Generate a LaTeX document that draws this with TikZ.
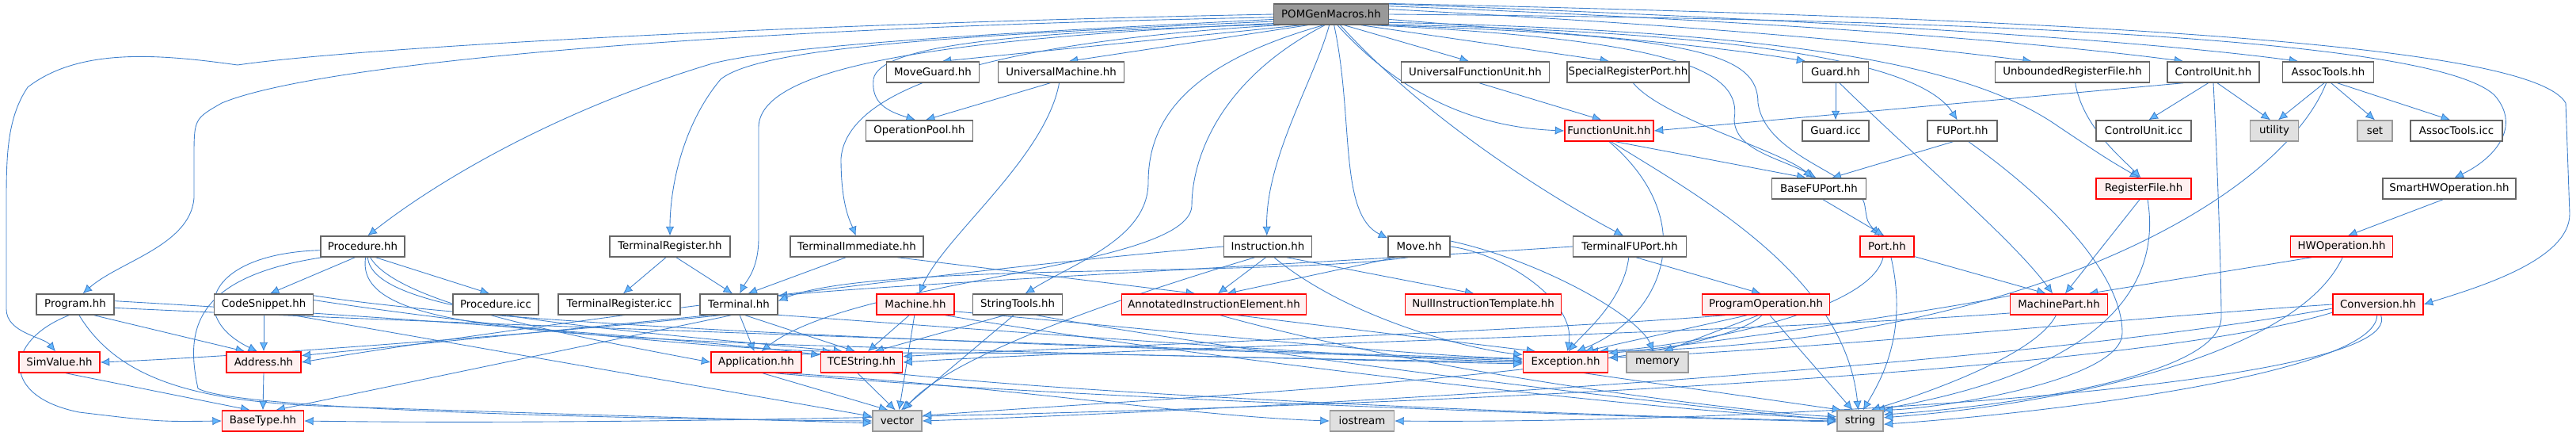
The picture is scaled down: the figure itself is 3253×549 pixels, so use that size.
\documentclass[tikz,border=0pt]{standalone}
\usepackage{fontspec}
\setmainfont{DejaVu Sans}
\usetikzlibrary{arrows.meta}
\pgfdeclarelayer{background}
\pgfsetlayers{background,main}
\definecolor{edgeblue}{HTML}{3F80CC}
\definecolor{tipblue}{HTML}{63B8FF}
\definecolor{redfill}{HTML}{FFF0F0}
\definecolor{sysfill}{HTML}{E0E0E0}
\begin{document}
\begin{tikzpicture}[x=0.02cm,y=0.02cm,
  box/.style={draw=black!60,line width=0.8pt,fill=white,minimum height=0.52cm,inner xsep=1pt,inner ysep=0pt,font=\fontsize{7.6}{9}\selectfont},
  bw/.style={minimum width=#1*0.02cm},
  rootbox/.style={box,fill=black!40},
  redbox/.style={box,draw=red,fill=redfill},
  sysbox/.style={box,draw=black!40,fill=sysfill},
  edge/.style={draw=edgeblue,line width=0.5pt,-{Latex[length=2.3mm,width=2.1mm,fill=tipblue]}}]
\useasboundingbox (0,0) rectangle (3253,-549);

\node[rootbox,bw=145] (pom) at (1681,-18) {POMGenMacros.hh};

\node[box,bw=117] (moveguard) at (1178,-91) {MoveGuard.hh};
\node[box,bw=159] (umach) at (1340,-91) {UniversalMachine.hh};
\node[box,bw=187] (ufu) at (1863,-91) {UniversalFunctionUnit.hh};
\node[box,bw=151] (srport) at (2056,-91) {SpecialRegisterPort.hh};
\node[box,bw=83] (guard) at (2318,-91) {Guard.hh};
\node[box,bw=195] (urf) at (2617,-91) {UnboundedRegisterFile.hh};
\node[box,bw=116] (cu) at (2795,-91) {ControlUnit.hh};
\node[box,bw=115] (assoc) at (2940,-91) {AssocTools.hh};

\node[box,bw=135] (oppool) at (1161,-165) {OperationPool.hh};
\node[redbox,bw=112] (fu) at (2032,-165) {FunctionUnit.hh};
\node[box,bw=84] (guardicc) at (2318,-165) {Guard.icc};
\node[box,bw=88] (fuport) at (2478,-165) {FUPort.hh};
\node[box,bw=120] (cuicc) at (2707,-165) {ControlUnit.icc};
\node[sysbox,bw=61] (utility) at (2872,-165) {utility};
\node[sysbox,bw=44] (setnode) at (2999,-165) {set};
\node[box,bw=116] (associcc) at (3102,-165) {AssocTools.icc};

\node[box,bw=119] (basefuport) at (2297,-238) {BaseFUPort.hh};
\node[redbox,bw=120] (rf) at (2707,-238) {RegisterFile.hh};
\node[box,bw=168] (smarthw) at (3093,-238) {SmartHWOperation.hh};

\node[box,bw=106] (proc) at (458,-311) {Procedure.hh};
\node[box,bw=152] (termreg) at (846,-311) {TerminalRegister.hh};
\node[box,bw=168] (termimm) at (1082,-311) {TerminalImmediate.hh};
\node[box,bw=111] (instr) at (1601,-311) {Instruction.hh};
\node[box,bw=78] (move) at (1792,-311) {Move.hh};
\node[box,bw=143] (termfu) at (2058,-311) {TerminalFUPort.hh};
\node[redbox,bw=68] (port) at (2383,-311) {Port.hh};
\node[redbox,bw=129] (hwop) at (2957,-311) {HWOperation.hh};

\node[box,bw=98] (prog) at (95,-384) {Program.hh};
\node[box,bw=125] (codesnip) at (333,-384) {CodeSnippet.hh};
\node[box,bw=108] (procicc) at (626,-384) {Procedure.icc};
\node[box,bw=154] (termregicc) at (782,-384) {TerminalRegister.icc};
\node[box,bw=98] (term) at (933,-384) {Terminal.hh};
\node[redbox,bw=98] (machine) at (1156,-384) {Machine.hh};
\node[box,bw=113] (strtools) at (1285,-384) {StringTools.hh};
\node[redbox,bw=233] (aie) at (1533,-384) {AnnotatedInstructionElement.hh};
\node[redbox,bw=197] (nullit) at (1873,-384) {NullInstructionTemplate.hh};
\node[redbox,bw=161] (progop) at (2230,-384) {ProgramOperation.hh};
\node[redbox,bw=123] (mpart) at (2600,-384) {MachinePart.hh};
\node[redbox,bw=114] (conv) at (3003,-384) {Conversion.hh};

\node[redbox,bw=102] (simval) at (75,-457) {SimValue.hh};
\node[redbox,bw=94] (addr) at (333,-457) {Address.hh};
\node[redbox,bw=114] (app) at (955,-457) {Application.hh};
\node[redbox,bw=103] (tcestr) at (1088,-457) {TCEString.hh};
\node[redbox,bw=107] (exc) at (1977,-457) {Exception.hh};
\node[sysbox,bw=78] (memory) at (2093,-457) {memory};

\node[redbox,bw=103] (basetype) at (332,-531) {BaseType.hh};
\node[sysbox,bw=62] (vector) at (1133,-531) {vector};
\node[sysbox,bw=81] (iostream) at (1720,-531) {iostream};
\node[sysbox,bw=58] (string) at (2349,-531) {string};

\begin{pgfonlayer}{background}
\draw[edge] (pom.200) -- (moveguard.50);
\draw[edge] (pom.205) -- (umach.55);
\draw[edge] (pom.190) .. controls (1300,-40) and (1110,-55) .. (1103,-100) .. controls (1100,-130) and (1120,-140) .. (oppool.110);
\draw[edge] (pom.320) -- (ufu.120);
\draw[edge] (pom.340) -- (srport.150);
\draw[edge] (pom.355) .. controls (1950,-40) and (2150,-55) .. (guard.160);
\draw[edge] (pom.5) .. controls (2100,-30) and (2350,-50) .. (urf.165);
\draw[edge] (pom.8) .. controls (2200,-25) and (2550,-50) .. (cu.160);
\draw[edge] (pom.10) .. controls (2300,-25) and (2700,-50) .. (assoc.160);
\draw[edge] (pom.east) .. controls (2600,-25) and (3080,-55) .. (3150,-120) .. controls (3185,-160) and (3150,-200) .. (smarthw.65);
\draw[edge] (pom.12) .. controls (2700,-25) and (3200,-60) .. (3240,-130) -- (3245,-270) .. controls (3245,-330) and (3120,-365) .. (conv.east);
\draw[edge] (pom.300) .. controls (1760,-110) and (1850,-160) .. (fu.west);
\draw[edge] (pom.350) .. controls (2150,-40) and (2420,-70) .. (fuport.115);
\draw[edge] (pom.352) .. controls (2300,-40) and (2500,-90) .. (2600,-160) .. controls (2660,-200) .. (rf.112);
\draw[edge] (pom.345) .. controls (2120,-50) and (2200,-90) .. (2190,-150) .. controls (2190,-190) and (2250,-200) .. (basefuport.105);
\draw[edge] (pom.348) .. controls (2150,-45) and (2220,-70) .. (2220,-130) .. controls (2230,-200) and (2350,-220) .. (2355,-260) .. controls (2358,-280) .. (port.125);
\draw[edge] (pom.310) .. controls (1800,-150) and (1960,-250) .. (termfu.120);
\draw[edge] (pom.285) .. controls (1710,-150) and (1690,-270) .. (move.165);
\draw[edge] (pom.260) .. controls (1660,-100) and (1598,-200) .. (instr.95);
\draw[edge] (pom.235) .. controls (1500,-80) and (1450,-150) .. (1450,-230) .. controls (1450,-300) and (1360,-330) .. (strtools.55);
\draw[edge] (pom.240) .. controls (1540,-100) and (1505,-200) .. (1505,-260) .. controls (1500,-340) and (1080,-350) .. (app.65);
\draw[edge] (pom.192) .. controls (1300,-50) and (1070,-100) .. (1062,-200) .. controls (1062,-260) and (1074,-280) .. (termimm.95);
\draw[edge] (pom.189) .. controls (1150,-50) and (960,-90) .. (958,-160) -- (958,-300) .. controls (958,-340) and (942,-355) .. (term.85);
\draw[edge] (pom.187) .. controls (1200,-45) and (960,-60) .. (910,-100) .. controls (860,-160) and (846,-240) .. (termreg.north);
\draw[edge] (pom.185) .. controls (1300,-40) and (1000,-55) .. (900,-80) .. controls (700,-140) and (550,-230) .. (proc.65);
\draw[edge] (pom.183) .. controls (900,-35) and (400,-80) .. (280,-130) .. controls (245,-150) .. (245,-200) -- (245,-250) .. controls (240,-310) and (150,-330) .. (prog.55);
\draw[edge] (pom.180) .. controls (1000,-30) and (450,-60) .. (300,-82) .. controls (200,-68) and (100,-60) .. (35,-110) .. controls (8,-150) and (8,-200) .. (8,-260) -- (8,-390) .. controls (8,-420) and (55,-425) .. (simval.110);

\draw[edge] (umach.225) -- (oppool.60);
\draw[edge] (umach.260) .. controls (1320,-200) and (1190,-300) .. (machine.70);
\draw[edge] (ufu.290) -- (fu.125);
\draw[edge] (srport.295) .. controls (2100,-150) and (2250,-190) .. (basefuport.120);
\draw[edge] (guard.south) -- (guardicc.north);
\draw[edge] (guard.290) .. controls (2420,-200) and (2540,-300) .. (mpart.120);
\draw[edge] (urf.285) .. controls (2630,-160) and (2680,-200) .. (rf.105);
\draw[edge] (cu.200) -- (fu.east);
\draw[edge] (cu.245) -- (cuicc.65);
\draw[edge] (cu.290) -- (utility.110);
\draw[edge] (cu.270) .. controls (2800,-200) and (2805,-350) .. (2805,-400) .. controls (2805,-480) and (2500,-515) .. (string.15);
\draw[edge] (assoc.250) -- (utility.70);
\draw[edge] (assoc.285) -- (setnode.north);
\draw[edge] (assoc.310) -- (associcc.120);
\draw[edge] (assoc.260) .. controls (2880,-250) and (2550,-440) .. (exc.25);

\draw[edge] (fu.300) -- (basefuport.140);
\draw[edge] (fu.280) .. controls (2150,-250) and (2330,-350) .. (string.100);
\draw[edge] (fu.270) .. controls (2150,-280) and (2100,-400) .. (exc.45);
\draw[edge] (fuport.230) -- (basefuport.40);
\draw[edge] (fuport.300) .. controls (2600,-260) and (2680,-350) .. (2680,-420) .. controls (2680,-480) and (2450,-515) .. (string.25);
\draw[edge] (basefuport.290) -- (port.105);
\draw[edge] (rf.250) -- (mpart.60);
\draw[edge] (rf.290) .. controls (2725,-330) and (2700,-460) .. (string.35);
\draw[edge] (smarthw.240) -- (hwop.60);

\draw[edge] (port.340) -- (mpart.140);
\draw[edge] (port.290) .. controls (2410,-420) and (2375,-480) .. (string.75);
\draw[edge] (port.250) .. controls (2360,-400) and (2100,-440) .. (exc.18);
\draw[edge] (hwop.200) -- (mpart.20);
\draw[edge] (hwop.275) .. controls (2900,-450) and (2600,-510) .. (string.8);
\draw[edge] (mpart.170) .. controls (2400,-400) and (2100,-440) .. (exc.12);
\draw[edge] (mpart.255) .. controls (2570,-450) and (2420,-500) .. (string.45);
\draw[edge] (mpart.190) .. controls (2200,-420) and (1400,-440) .. (tcestr.east);
\draw[edge] (conv.180) .. controls (2700,-400) and (2300,-440) .. (exc.6);
\draw[edge] (conv.265) .. controls (3000,-470) and (2600,-520) .. (string.352);
\draw[edge] (conv.285) .. controls (3040,-490) and (2200,-535) .. (iostream.east);
\draw[edge] (conv.190) .. controls (2600,-500) and (1000,-540) .. (basetype.east);
\draw[edge] (conv.185) .. controls (2500,-470) and (1500,-520) .. (vector.east);

\draw[edge] (termfu.300) -- (progop.115);
\draw[edge] (termfu.265) .. controls (2050,-380) and (2000,-420) .. (exc.75);
\draw[edge] (termfu.180) .. controls (1700,-330) and (1100,-360) .. (term.12);
\draw[edge] (progop.210) -- (exc.30);
\draw[edge] (progop.235) -- (memory.60);
\draw[edge] (progop.290) -- (string.125);
\draw[edge] (progop.250) .. controls (2150,-470) and (1500,-500) .. (vector.12);
\draw[edge] (progop.195) .. controls (1900,-420) and (1300,-440) .. (tcestr.8);

\draw[edge] (move.205) -- (aie.40);
\draw[edge] (move.east) .. controls (1900,-320) and (1990,-380) .. (exc.80);
\draw[edge] (move.10) .. controls (1950,-330) and (2070,-400) .. (memory.110);
\draw[edge] (move.225) .. controls (1600,-350) and (1100,-330) .. (term.5);
\draw[edge] (instr.260) -- (aie.70);
\draw[edge] (instr.330) -- (nullit.130);
\draw[edge] (instr.300) .. controls (1700,-400) and (1850,-440) .. (exc.170);
\draw[edge] (instr.220) .. controls (1400,-380) and (1200,-450) .. (vector.60);
\draw[edge] (instr.west) .. controls (1200,-340) and (600,-420) .. (addr.east);
\draw[edge] (aie.335) -- (exc.160);
\draw[edge] (aie.300) .. controls (1800,-470) and (2200,-520) .. (string.170);

\draw[edge] (machine.240) -- (tcestr.60);
\draw[edge] (machine.265) -- (vector.80);
\draw[edge] (machine.350) .. controls (1500,-420) and (1800,-450) .. (exc.175);
\draw[edge] (machine.340) .. controls (1500,-450) and (2100,-520) .. (string.175);
\draw[edge] (strtools.220) -- (tcestr.40);
\draw[edge] (strtools.250) -- (vector.70);
\draw[edge] (strtools.330) .. controls (1600,-450) and (2100,-510) .. (string.178);
\draw[edge] (termimm.225) -- (term.50);
\draw[edge] (termimm.345) -- (aie.150);
\draw[edge] (termreg.250) -- (termregicc.70);
\draw[edge] (termreg.300) -- (term.120);

\draw[edge] (term.210) .. controls (700,-420) and (300,-450) .. (simval.east);
\draw[edge] (term.200) -- (addr.10);
\draw[edge] (term.275) -- (app.100);
\draw[edge] (term.300) -- (tcestr.120);
\draw[edge] (term.235) -- (basetype.40);
\draw[edge] (term.345) .. controls (1300,-420) and (1700,-450) .. (exc.180);

\draw[edge] (proc.235) -- (codesnip.60);
\draw[edge] (proc.320) -- (procicc.120);
\draw[edge] (proc.185) .. controls (260,-320) and (235,-400) .. (addr.120);
\draw[edge] (proc.195) .. controls (240,-350) and (235,-420) .. (250,-490) .. controls (300,-520) and (900,-530) .. (vector.west);
\draw[edge] (proc.285) .. controls (450,-400) and (600,-420) .. (1000,-435) .. controls (1500,-450) .. (exc.west);
\draw[edge] (proc.295) .. controls (470,-390) and (700,-410) .. (tcestr.150);
\draw[edge] (proc.305) .. controls (500,-380) and (700,-420) .. (app.west);
\draw[edge] (codesnip.south) -- (addr.north);
\draw[edge] (codesnip.10) .. controls (700,-420) and (1500,-440) .. (exc.178);
\draw[edge] (codesnip.340) -- (vector.170);
\draw[edge] (codesnip.5) .. controls (600,-410) and (900,-440) .. (tcestr.160);

\draw[edge] (prog.330) -- (addr.150);
\draw[edge] (prog.240) .. controls (5,-430) and (0,-500) .. (100,-520) .. controls (200,-532) .. (basetype.west);
\draw[edge] (prog.290) .. controls (150,-480) and (250,-505) .. (400,-512) .. controls (700,-522) .. (vector.185);
\draw[edge] (prog.5) .. controls (500,-400) and (900,-430) .. (tcestr.170);
\draw[edge] (prog.355) .. controls (600,-410) and (1500,-440) .. (exc.176);
\draw[edge] (simval.300) -- (basetype.140);
\draw[edge] (addr.south) -- (basetype.north);

\draw[edge] (app.300) -- (vector.130);
\draw[edge] (app.330) .. controls (1300,-500) and (2000,-525) .. (string.182);
\draw[edge] (app.340) .. controls (1300,-490) and (1500,-525) .. (iostream.west);
\draw[edge] (app.10) .. controls (1300,-440) and (1700,-455) .. (exc.182);
\draw[edge] (tcestr.250) -- (vector.100);
\draw[edge] (tcestr.340) .. controls (1400,-500) and (2000,-525) .. (string.180);
\draw[edge] (exc.330) -- (string.150);
\end{pgfonlayer}
\end{tikzpicture}
\end{document}
